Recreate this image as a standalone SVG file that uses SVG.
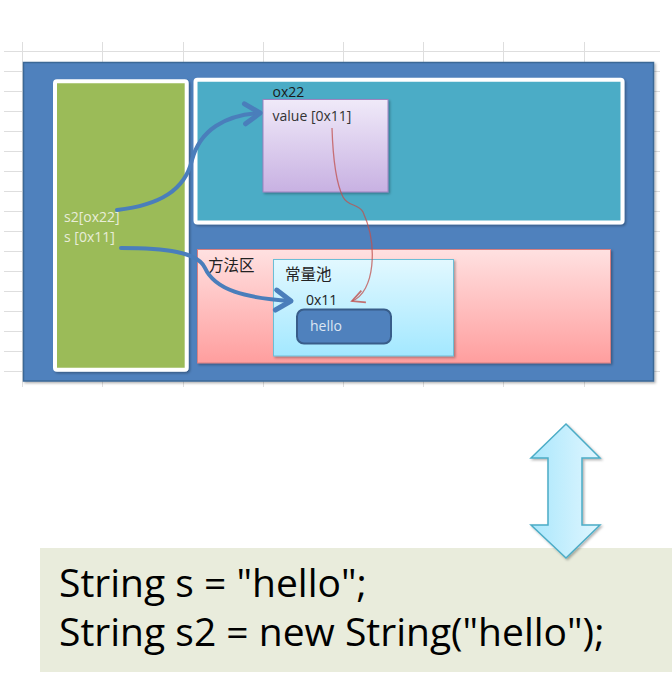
<svg xmlns="http://www.w3.org/2000/svg" width="672" height="683" viewBox="0 0 672 683">
<style>
.grid{stroke:#dedede;stroke-width:1;fill:none}
.small{font-family:"Open Sans","Liberation Sans",sans-serif;font-size:14px}
.cjk{font-family:"Noto Sans CJK SC","Noto Sans",sans-serif;font-size:15.5px;fill:#222}
.code{font-family:"Open Sans","Liberation Sans",sans-serif;font-size:39px;fill:#000}
.blue{stroke:#4A7EBB;stroke-width:4;fill:none;stroke-linecap:round}
.red{stroke:#C0504D;stroke-opacity:0.75;stroke-width:1.3;fill:none}
</style>
<defs>
<linearGradient id="gPurple" x1="0" y1="0" x2="0" y2="1"><stop offset="0" stop-color="#F0EAF9"/><stop offset="1" stop-color="#C8B1E2"/></linearGradient>
<linearGradient id="gPink" x1="0" y1="0" x2="0" y2="1"><stop offset="0" stop-color="#FFE1E1"/><stop offset="1" stop-color="#FF9E9E"/></linearGradient>
<linearGradient id="gCyan" x1="0" y1="0" x2="0" y2="1"><stop offset="0" stop-color="#E2F8FF"/><stop offset="1" stop-color="#A3E8FF"/></linearGradient>
<linearGradient id="gArrow" x1="0" y1="0" x2="1" y2="0"><stop offset="0" stop-color="#AAE7FC"/><stop offset="1" stop-color="#E0F6FF"/></linearGradient>
<filter id="sh" x="-10%" y="-10%" width="130%" height="130%"><feDropShadow dx="1.5" dy="1.5" stdDeviation="1.2" flood-color="#000" flood-opacity="0.3"/></filter>
<marker id="mBlue" markerUnits="userSpaceOnUse" markerWidth="30" markerHeight="30" viewBox="-16 -12 20 24" refX="0" refY="0" orient="auto"><path d="M-12,-8 L0,0 L-12,8" fill="none" stroke="#4A7EBB" stroke-width="4" stroke-linecap="round" stroke-linejoin="round"/></marker>
<marker id="mRed" markerUnits="userSpaceOnUse" markerWidth="20" markerHeight="20" viewBox="-12 -8 14 16" refX="0" refY="0" orient="auto"><path d="M-10,-5 L0,0 L-10,5" fill="none" stroke="#C0504D" stroke-opacity="0.8" stroke-width="1.4"/></marker>
</defs>
<rect width="672" height="683" fill="#fff"/>
<g id="grid" class="grid">
<path d="M4,51.5H660M4,71.5H660M4,91.5H660M4,111.5H660M4,131.5H660M4,151.5H660M4,171.5H660M4,191.5H660M4,211.5H660M4,231.5H660M4,251.5H660M4,271.5H660M4,291.5H660M4,311.5H660M4,331.5H660M4,351.5H660M4,371.5H660"/>
<path d="M22.5,42V387M102.5,42V387M183.5,42V387M263.5,42V387M343.5,42V387M423.5,42V387M503.5,42V387M584.5,42V387"/>
</g>
<g id="memory">
<rect x="23.5" y="62.5" width="630" height="318.5" fill="#4F81BD" stroke="#3A6896" stroke-width="1.5" filter="url(#sh)"/>
</g>
<g id="stack">
<rect x="55" y="81.3" width="131.7" height="288.4" rx="2" fill="#9BBB59" stroke="#fff" stroke-width="4" filter="url(#sh)"/>
<text class="small" x="64" y="222" fill="#E8EDD8">s2[ox22]</text>
<text class="small" x="64" y="242" fill="#E8EDD8">s [0x11]</text>
</g>
<g id="heap">
<rect x="195.5" y="79.8" width="427" height="142.7" rx="2" fill="#4BACC6" stroke="#fff" stroke-width="4" filter="url(#sh)"/>
</g>
<g id="obj">
<rect x="263" y="99.5" width="125" height="92.5" fill="url(#gPurple)" stroke="#9E82BF" stroke-width="1" filter="url(#sh)"/>
<text class="small" x="272.5" y="97" fill="#1a1a1a">ox22</text>
<text class="small" x="272.5" y="121" fill="#333">value [0x11]</text>
</g>
<g id="method">
<rect x="197.5" y="249.5" width="413" height="113.5" fill="url(#gPink)" stroke="#D77F80" stroke-width="1" filter="url(#sh)"/>
<text class="cjk" x="208" y="271">方法区</text>
</g>
<g id="pool">
<rect x="273.5" y="259.5" width="180" height="96.5" fill="url(#gCyan)" stroke="#6CBED6" stroke-width="1" filter="url(#sh)"/>
<text class="cjk" x="285" y="280">常量池</text>
<text class="small" x="306" y="305" fill="#222">0x11</text>
</g>
<g id="hello">
<rect x="297" y="309.5" width="94" height="34" rx="7" fill="#4F81BD" stroke="#385D8A" stroke-width="2"/>
<text class="small" x="310" y="331" fill="#DCE6F2">hello</text>
</g>
<g id="connectors">
<path class="blue" d="M117,210 C160,205 185,190 192,160 C200,130 225,115 260,113" marker-end="url(#mBlue)"/>
<path class="blue" d="M121,248 C165,248 198,252 205,268 C215,290 245,298 291,301" marker-end="url(#mBlue)"/>
<path class="red" d="M332,128 C333,160 337,185 343,197 C348,207 358,203 363,212 C378,245 375,292 352,301" marker-end="url(#mRed)"/>
</g>
<g id="code">
<rect x="40" y="548" width="632" height="124" fill="#E9ECDC"/>
<text class="code" x="59" y="597">String s = "hello";</text>
<text class="code" x="59" y="646">String s2 = new String("hello");</text>
</g>
<g id="doubleArrow">
<path d="M566,424 L600,458 L582,458 L582,525 L600,525 L566,558 L531,525 L548,525 L548,458 L531,458 Z" fill="url(#gArrow)" stroke="#4BACC6" stroke-width="1.5" stroke-linejoin="miter" filter="url(#sh)"/>
</g>
</svg>
